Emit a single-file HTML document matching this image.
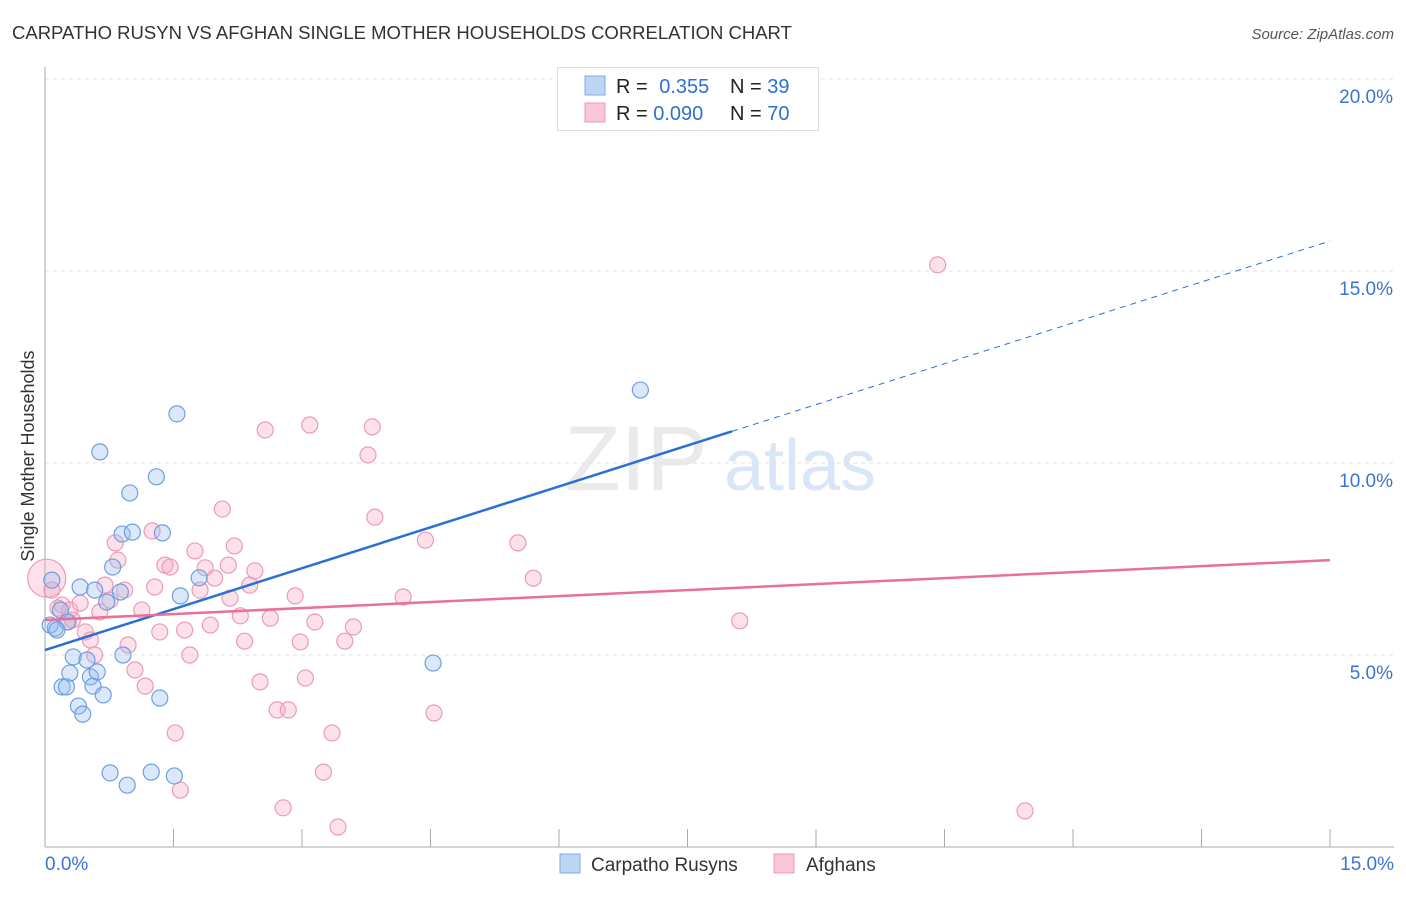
<!DOCTYPE html>
<html><head><meta charset="utf-8">
<style>
body{margin:0;background:#fff;font-family:"Liberation Sans",sans-serif;}
svg text{font-family:"Liberation Sans",sans-serif;}
</style></head>
<body>
<svg id="chart" width="1406" height="892">
<text x="12" y="39" font-size="18.5" fill="#333">CARPATHO RUSYN VS AFGHAN SINGLE MOTHER HOUSEHOLDS CORRELATION CHART</text>
<text x="1394" y="39" font-size="15" fill="#555" font-style="italic" text-anchor="end">Source: ZipAtlas.com</text>
<text transform="translate(34,456) rotate(-90)" font-size="18" fill="#333" text-anchor="middle">Single Mother Households</text>
<g>
<text x="636" y="490" font-size="92" fill="#ddd" font-family="Liberation Serif" text-anchor="middle" opacity="0.6">ZIP</text>
<text x="800" y="490" font-size="72" fill="#c9dcf5" text-anchor="middle" opacity="0.7">atlas</text>
</g>
<g id="grid"></g><g id="axes"></g><g id="pts"></g><g id="lines"></g>
<g>
<rect x="557.5" y="67.5" width="261" height="63" fill="#fff" stroke="#ddd"/>
<rect x="585" y="76" width="20" height="19" fill="#bcd5f5" stroke="#7ea9e0"/>
<rect x="585" y="103" width="20" height="19" fill="#f9c6d6" stroke="#ec9ab5"/>
<text x="616" y="93" font-size="20" fill="#222">R = <tspan fill="#2f6fd0" dx="6">0.355</tspan></text>
<text x="730" y="93" font-size="20" fill="#222">N = <tspan fill="#2f6fd0">39</tspan></text>
<text x="616" y="120" font-size="20" fill="#222">R = <tspan fill="#2f6fd0">0.090</tspan></text>
<text x="730" y="120" font-size="20" fill="#222">N = <tspan fill="#2f6fd0">70</tspan></text>
</g>
<g>
<rect x="560" y="854" width="20" height="19" fill="#bcd5f5" stroke="#7ea9e0"/>
<text x="591" y="871" font-size="19" fill="#333">Carpatho Rusyns</text>
<rect x="774" y="854" width="20" height="19" fill="#f9c6d6" stroke="#ec9ab5"/>
<text x="806" y="871" font-size="19" fill="#333">Afghans</text>
</g>
</svg>
<script>
const blueX=[.08,.12,.06,.18,.26,.20,.25,.33,.29,.39,.44,.41,.49,.53,.56,.61,.68,.58,.64,.72,.79,.76,.88,.90,.96,.91,.99,1.02,1.24,1.30,1.37,1.34,1.51,1.54,1.58,1.80,4.53,6.95,.14];
const blueY=[6.95,5.70,5.78,6.17,5.86,4.17,4.17,4.95,4.53,3.67,3.46,6.77,4.87,4.43,4.19,4.56,3.96,6.69,10.29,6.38,7.29,1.93,6.64,8.15,1.61,5.00,9.22,8.20,1.95,9.64,8.18,3.88,1.85,11.28,6.54,7.01,4.79,11.90,5.65];
const pinkX=[.02,.08,.15,.20,.29,.32,.41,.47,.53,.58,.64,.70,.76,.82,.85,.93,.97,1.05,1.13,1.17,1.25,1.28,1.34,1.40,1.46,1.52,1.58,1.63,1.69,1.75,1.81,1.87,1.93,1.98,2.07,2.14,2.16,2.21,2.28,2.33,2.39,2.45,2.51,2.57,2.63,2.71,2.78,2.84,2.92,2.98,3.04,3.09,3.15,3.25,3.35,3.42,3.50,3.60,3.77,3.82,3.85,4.18,4.44,4.54,5.52,5.70,8.11,10.42,11.44,.27];
const pinkY=[7.00,6.69,6.22,6.30,6.17,5.91,6.35,5.60,5.39,5.00,6.12,6.82,6.43,7.92,7.47,6.69,5.26,4.61,6.17,4.19,8.23,6.77,5.60,7.34,7.29,2.97,1.48,5.65,5.00,7.71,6.69,7.27,5.78,7.00,8.80,7.34,6.48,7.84,6.02,5.36,6.82,7.19,4.30,10.86,5.96,3.57,1.02,3.57,6.54,5.34,4.40,10.99,5.86,1.95,2.97,0.52,5.36,5.73,10.21,10.94,8.59,6.51,7.99,3.49,7.92,7.00,5.89,15.16,0.94,5.86];
const blueTrend=[5.13,15.78];
const pinkTrend=[5.91,7.47];
const yTicks=[5,10,15,20];
const xTicks=[0,1.5,3,4.5,6,7.5,9,10.5,12,13.5,15];
const NS="http://www.w3.org/2000/svg";
const X=v=>45+v/15*1285, Y=v=>847-v*38.4;
function mk(t,a,p){const e=document.createElementNS(NS,t);for(const k in a)e.setAttribute(k,a[k]);document.getElementById(p).appendChild(e);return e;}
yTicks.forEach(t=>{
 const l=mk('line',{x1:45,x2:1394,y1:Y(t),y2:Y(t),stroke:'#e2e2e2','stroke-dasharray':'4,4'},'grid');
 
 
 const tx=mk('text',{x:1393,y:Y(t)+24,'font-size':19,fill:'#3a74d4','text-anchor':'end'},'axes');
 tx.textContent=t.toFixed(1)+'%';
 
 
});
const ax=mk('line',{x1:45,x2:45,y1:67,y2:847,stroke:'#aaa'},'axes');


const bx=mk('line',{x1:45,x2:1394,y1:847,y2:847,stroke:'#aaa'},'axes');


xTicks.forEach(t=>{
 const l=mk('line',{x1:X(t),x2:X(t),y1:829,y2:847,stroke:'#aaa'},'axes');
 
 
});
[[0,'0.0%','start',45],[15,'15.0%','end',1394]].forEach(d=>{
 const tx=mk('text',{x:d[3],y:870,'font-size':19,fill:'#3a74d4','text-anchor':d[2]},'axes');
 tx.textContent=d[1];
 
 
});
pinkX.forEach((x,i)=>{
 const c=mk('circle',{cx:X(x),cy:Y(pinkY[i]),r:i===0?19:8,fill:'rgba(245,170,195,0.35)',stroke:'#ec9ab5','stroke-width':1.2},'pts');
 
 
});
blueX.forEach((x,i)=>{
 const c=mk('circle',{cx:X(x),cy:Y(blueY[i]),r:8,fill:'rgba(150,190,240,0.35)',stroke:'#6f9fe0','stroke-width':1.2},'pts');
 
 
});
const bt=v=>blueTrend[0]+(blueTrend[1]-blueTrend[0])*v/15;
const xs=8.02;
const b1=mk('line',{x1:X(0),y1:Y(bt(0)),x2:X(xs),y2:Y(bt(xs)),stroke:'#2b6fd6','stroke-width':2.5},'lines');


const b2=mk('line',{x1:X(xs),y1:Y(bt(xs)),x2:X(15),y2:Y(bt(15)),stroke:'#2b6fd6','stroke-width':1,'stroke-dasharray':'6,5'},'lines');


const p1=mk('line',{x1:X(0),y1:Y(pinkTrend[0]),x2:X(15),y2:Y(pinkTrend[1]),stroke:'#e8709a','stroke-width':2.5},'lines');


</script>
</body></html>
